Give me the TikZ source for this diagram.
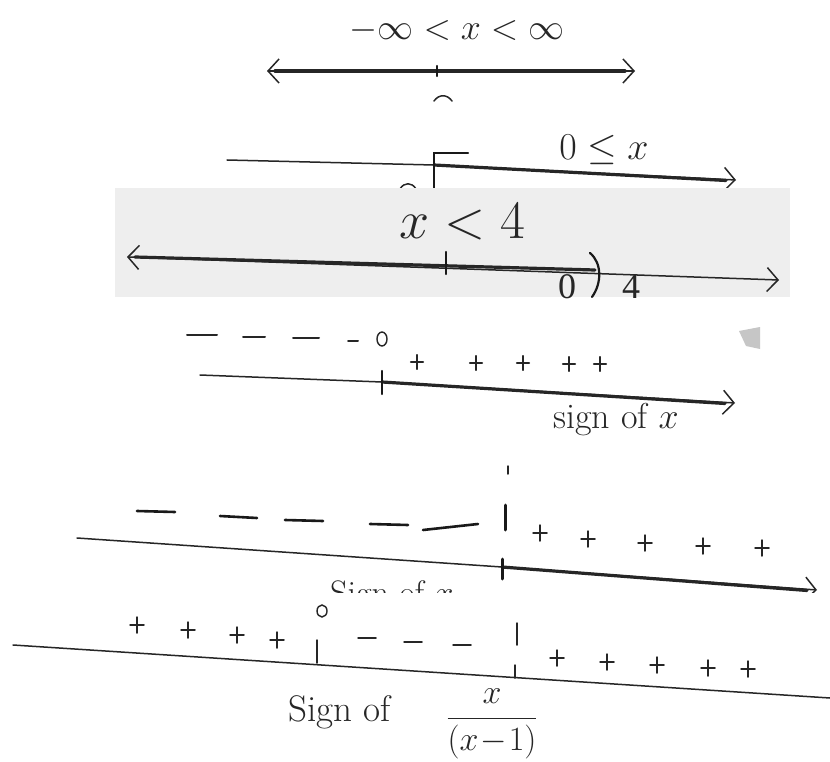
\RequirePackage{fix-cm}
\documentclass[tikz,border=0pt]{standalone}
\usepackage{fontspec}
\newfontfamily\typed{Liberation Serif}
\usetikzlibrary{arrows.meta}
\tikzset{
  ink/.style={draw=black!85, line width=1.5pt, line cap=round, line join=round},
  hl/.style={draw=black!85, line width=3.2pt, line cap=round},
  tk/.style={draw=black!90, line width=2.2pt, line cap=round},
  barb/.style={-{Straight Barb[length=11pt,width=24pt,line width=1.5pt]}},
  barbs/.style={{Straight Barb[length=11pt,width=24pt,line width=1.5pt]}-{Straight Barb[length=11pt,width=24pt,line width=1.5pt]}},
  hand/.style={inner sep=0pt, text=black!85},
  zero/.style={draw=black!85, line width=1.4pt},
  plus/.pic={\draw[ink] (-7,0) -- (7,0) (0,-8) -- (0,8);}
}
\begin{document}
\begin{tikzpicture}[x=1pt,y=-1pt]
\useasboundingbox (0,0) rectangle (830,762);
\fill[white] (0,0) rectangle (830,762);
% ---------- panel 1
\node[hand, font=\fontsize{36}{36}\selectfont] (t1) at (457,31) {$-\infty<x<\infty$};
\coordinate (p1l) at (267,71);
\coordinate (p1r) at (635,71);
\coordinate (p1t) at (437,71);
\draw[ink, barbs] (p1l) -- (p1r);
\draw[hl] ([xshift=8pt]p1l) -- ([xshift=-10pt]p1r);
\draw[tk] ([yshift=-5pt]p1t) -- ([yshift=5pt]p1t);
\draw[ink] (434,101) .. controls (439,94) and (447,94) .. (452,101);
% ---------- panel 2
\coordinate (p2l) at (227,160);
\coordinate (p2b) at (434,165);
\coordinate (p2r) at (736,180);
\draw[ink] (p2l) -- (p2b);
\draw[ink, barb] (p2b) -- (p2r);
\draw[hl] (p2b) -- ([xshift=-10pt,yshift=-0.5pt]p2r);
\draw[tk] (468,153) -- (434,153) -- (434,189);
\node[hand, font=\fontsize{38}{38}\selectfont] (t2) at (604,150) {$0\le x$};
\draw[ink] (400,189) .. controls (404,182) and (412,182) .. (416,189);
% ---------- panel 3
\fill[gray!13] (115,188) rectangle (790,297);
\node[hand, font=\fontsize{54}{54}\selectfont] (t3) at (462,222) {$x<4$};
\coordinate (p3l) at (127,257);
\coordinate (p3p) at (595,270);
\coordinate (p3r) at (779,280);
\coordinate (p3t) at (446,263);
\draw[ink, barbs] (p3l) -- (p3r);
\draw[hl] ([xshift=8pt]p3l) -- (p3p);
\draw[tk] ([yshift=-11pt]p3t) -- ([yshift=11pt]p3t);
\draw[tk] (590,253) .. controls (602,263) and (602,283) .. (592,297);
\node[hand, font=\typed\fontsize{36}{36}\selectfont] (z0) at (567,287) {0};
\node[hand, font=\typed\fontsize{36}{36}\selectfont] (z4) at (631,287) {4};
% ---------- panel 4
\fill[gray!45] (739,331) -- (760,327) -- (760,349) -- (746,346) -- cycle;
\foreach \a/\b/\y in {187/217/335, 243/265/337, 293/319/338, 348/358/341}
  \draw[ink, line width=2pt] (\a,\y) -- (\b,\y);
\draw[zero] (382,339) ellipse [x radius=5pt, y radius=7pt];
\foreach \px/\py in {417/362, 476/363, 523/363, 569/364, 600/364}
  \pic[scale=0.9] at (\px,\py) {plus};
\coordinate (p4l) at (200,375);
\coordinate (p4z) at (382,382);
\coordinate (p4r) at (735,403);
\draw[ink] (p4l) -- (p4z);
\draw[ink, barb] (p4z) -- (p4r);
\draw[hl] (p4z) -- ([xshift=-10pt,yshift=-0.5pt]p4r);
\draw[tk] ([yshift=-12pt]p4z) -- ([yshift=11pt]p4z);
\node[hand, font=\fontsize{36}{36}\selectfont] (t4) at (616,420) {sign of $x$};
% ---------- panel 5
\draw[ink] (508,466) -- (508,474);
\foreach \a/\b/\c/\d in {137/511/175/512, 220/516/257/518, 285/520/323/521, 370/524/408/525, 423/530/478/524}
  \draw[tk, line width=2.6pt] (\a,\b) -- (\c,\d);
\draw[tk, line width=3pt] (505,505) -- (505,530);
\foreach \px/\py in {540/533, 588/539, 645/543, 703/546, 762/548}
  \pic at (\px,\py) {plus};
\coordinate (p5l) at (77,538);
\coordinate (p5z) at (502,567);
\coordinate (p5r) at (817,590);
\draw[ink] (p5l) -- (p5z);
\draw[ink, barb] (p5z) -- (p5r);
\draw[hl] (p5z) -- ([xshift=-10pt,yshift=-0.5pt]p5r);
\draw[tk, line width=3pt] ([yshift=-12pt]p5z) -- ([yshift=8pt]p5z);
\node[hand, font=\fontsize{34}{34}\selectfont, anchor=base west] (t5) at (330,604) {Sign of $x$};
% ---------- panel 6
\fill[white] (0,593) rectangle (830,762);
\coordinate (p6l) at (13,645);
\coordinate (p6r) at (830,698);
\draw[ink] (p6l) -- (p6r);
\foreach \px/\py in {137/625, 188/630, 237/635, 277/640}
  \pic at (\px,\py) {plus};
\draw[zero] (322,611) ellipse [x radius=5pt, y radius=6pt];
\draw[ink] (317,640) -- (317,663);
\foreach \a/\b/\c in {358/638/376, 404/642/422, 453/645/471}
  \draw[ink] (\a,\b) -- (\c,\b);
\draw[ink] (517,623) -- (517,645);
\draw[ink] (515,665) -- (515,678);
\foreach \px/\py in {557/658, 607/662, 657/665, 708/668, 748/669}
  \pic at (\px,\py) {plus};
\node[hand, font=\fontsize{37}{37}\selectfont, anchor=base west] (t6) at (288,721) {Sign of};
\node[hand, font=\fontsize{34}{34}\selectfont] (f6) at (492,724) {$\displaystyle\frac{x}{(x\!-\!1)}$};
\end{tikzpicture}
\end{document}
